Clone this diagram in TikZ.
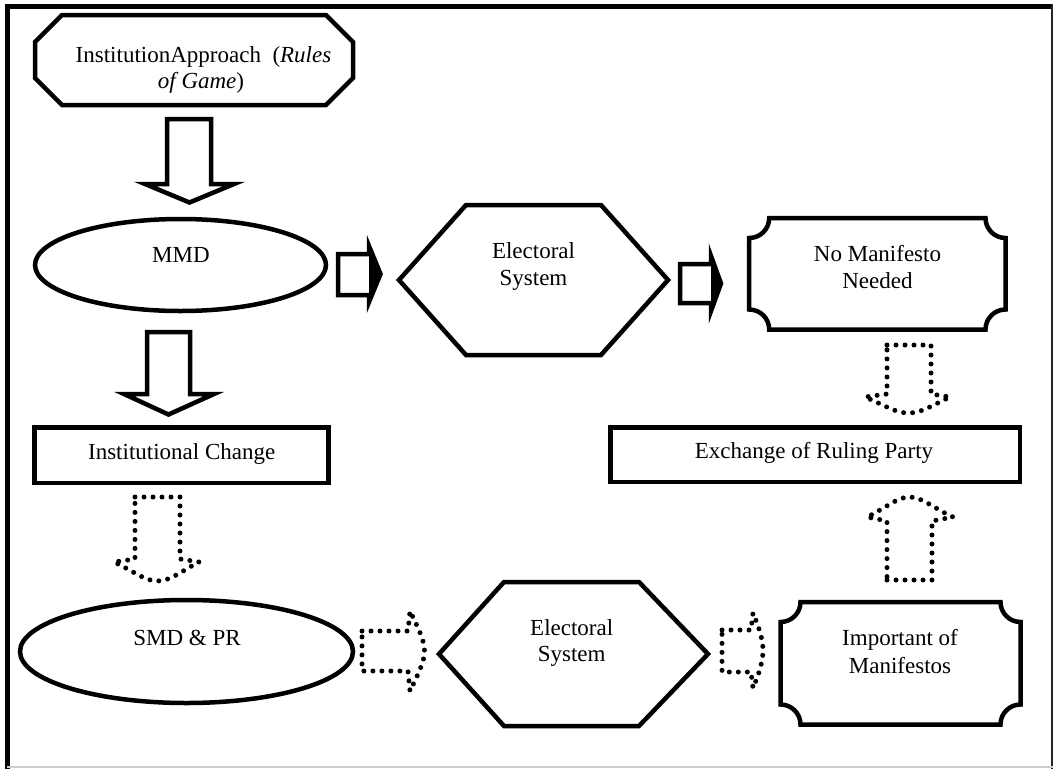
\documentclass[tikz,border=0pt]{standalone}
\usepackage{fontspec}
\setmainfont{Liberation Serif}
\usetikzlibrary{shapes.geometric}
\tikzset{
  blk/.style={draw=black, line width=4.5pt, fill=white, line join=miter},
  blockarrow/.style={draw=black, line width=4.5pt, fill=white, line join=miter},
  headfill/.style={fill=black, draw=none},
  dotarrow/.style={draw=black, line width=5pt, line cap=round, dash pattern=on 0pt off 9pt},
  lbl/.style={font=\fontsize{23}{27}\selectfont, anchor=base, inner sep=0pt, outer sep=0pt},
}
\begin{document}
\begin{tikzpicture}[x=1pt,y=-1pt]
\useasboundingbox (0,0) rectangle (1055,769);
% outer frame
\draw[line width=5pt] (4.5,6.5) -- (1052.5,6.5);
\draw[line width=4.5pt] (7.25,4) -- (7.25,769);
\draw[line width=2pt, black!85] (1052,4) -- (1052,769);
\draw[line width=2pt, black!20] (7,767) -- (1053,767);

% octagon
\draw[blk] (62,15) -- (326,15) -- (353,42) -- (353,78) -- (326,105) -- (62,105) -- (35,78) -- (35,42) -- cycle;
\node[lbl] (inst1) at (203.5,62) {InstitutionApproach\ \ (\textit{Rules}};
\node[lbl] (inst2) at (201,88) {\textit{of Game})};

% down arrow 1
\draw[blockarrow] (167,119) -- (211,119) -- (211,184) -- (234,184) -- (189.5,202.5) -- (145,184) -- (167,184) -- cycle;

% MMD ellipse
\node[blk, ellipse, minimum width=291pt, minimum height=92pt, inner sep=0pt] (mmd) at (180.5,265) {};
\node[lbl] (mmdtxt) at (181,262) {MMD};

% right arrow 1
\draw[blockarrow] (338,254) -- (369,254) -- (369,246) -- (380.5,274) -- (369,302) -- (369,295) -- (338,295) -- cycle;
\fill[headfill] (369,246) -- (380.5,274) -- (369,302) -- cycle;

% hexagon 1
\draw[blk] (466,205) -- (601,205) -- (668,280) -- (601,355) -- (466,355) -- (399,280) -- cycle;
\node[lbl] (es1a) at (533.5,258) {Electoral};
\node[lbl] (es1b) at (533.5,285) {System};

% right arrow 2
\draw[blockarrow] (680,264) -- (711,264) -- (711,256) -- (721,283.5) -- (711,311) -- (711,303) -- (680,303) -- cycle;
\fill[headfill] (711,256) -- (721,283.5) -- (711,311) -- cycle;

% No Manifesto plaque
\draw[blk] (769.2,218) -- (985.5,218) .. controls (985.5,229.05) and (994.45,238) .. (1005.5,238)
  -- (1005.5,309.5) .. controls (994.45,309.5) and (985.5,318.45) .. (985.5,329.5)
  -- (769.2,329.5) .. controls (769.2,318.45) and (760.25,309.5) .. (749.2,309.5)
  -- (749.2,238) .. controls (760.25,238) and (769.2,229.05) .. (769.2,218) -- cycle;
\node[lbl] (nm1) at (877.5,261.7) {No Manifesto};
\node[lbl] (nm2) at (877.5,288) {Needed};

% down arrow 2
\draw[blockarrow] (147,332) -- (190,332) -- (190,394) -- (214,394) -- (168.5,414.5) -- (124,394) -- (147,394) -- cycle;

% Institutional Change box
\node[blk, rectangle, minimum width=293.8pt, minimum height=55.5pt, inner sep=0pt] (ic) at (181.6,455.25) {};
\node[lbl] (ictxt) at (181.7,459) {Institutional Change};

% Exchange box
\node[blk, rectangle, minimum width=409.5pt, minimum height=54.5pt, inner sep=0pt] (ex) at (815,454.5) {};
\node[lbl] (extxt) at (814,458) {Exchange of Ruling Party};

% dotted down arrow (No Manifesto -> Exchange)
\draw[dotarrow] (887,345) -- (931,345) -- (931,394) -- (950,397) .. controls (931,406) and (921,413) .. (908.5,413) .. controls (896,413) and (886,406) .. (865,397) -- (887,394) -- cycle;

% dotted up arrow (Important -> Exchange)
\draw[dotarrow] (887,580) -- (932,580) -- (932,521) -- (953,517) .. controls (933,508) and (922,497) .. (909.5,497) .. controls (897,497) and (886,508) .. (867,517) -- (887,521) -- cycle;

% dotted down arrow (Institutional Change -> SMD)
\draw[dotarrow] (135,497) -- (180,497) -- (180,559) -- (199,562) .. controls (180,572) and (170,581) .. (157.5,581) .. controls (145,581) and (135,572) .. (114,562) -- (135,559) -- cycle;

% SMD ellipse
\node[blk, ellipse, minimum width=333pt, minimum height=103pt, inner sep=0pt] (smd) at (186.5,651.5) {};
\node[lbl] (smdtxt) at (187,645) {SMD \& PR};

% dotted right arrow (SMD -> Electoral 2)
\draw[dotarrow] (362,631) -- (408,631) -- (410,611) .. controls (418,628) and (424.5,640) .. (424.5,651) .. controls (424.5,662) and (418,674) .. (410,691) -- (408,671) -- (362,671) -- cycle;

% hexagon 2
\draw[blk] (504,582) -- (639,582) -- (708,654) -- (639,726) -- (504,726) -- (439,654) -- cycle;
\node[lbl] (es2a) at (571.7,635) {Electoral};
\node[lbl] (es2b) at (571.7,661.7) {System};

% dotted right arrow (Electoral 2 -> Important)
\draw[dotarrow] (722,630) -- (751,630) -- (753,613) .. controls (759,627) and (763,640) .. (763,650.5) .. controls (763,661) and (759,674) .. (753,688) -- (751,672) -- (722,672) -- cycle;

% Important plaque
\draw[blk] (800.5,602) -- (1000.5,602) .. controls (1000.5,613.05) and (1009.45,622) .. (1020.5,622)
  -- (1020.5,704.5) .. controls (1009.45,704.5) and (1000.5,713.45) .. (1000.5,724.5)
  -- (800.5,724.5) .. controls (800.5,713.45) and (791.55,704.5) .. (780.5,704.5)
  -- (780.5,622) .. controls (791.55,622) and (800.5,613.05) .. (800.5,602) -- cycle;
\node[lbl] (im1) at (900,645) {Important of};
\node[lbl] (im2) at (900,673) {Manifestos};
\end{tikzpicture}
\end{document}
